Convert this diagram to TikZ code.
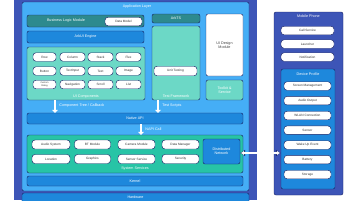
\documentclass[tikz,border=0pt]{standalone}
\usepackage{fontspec}
\setmainfont{Liberation Sans}
\usetikzlibrary{positioning,arrows.meta}
\definecolor{frameblue}{HTML}{3D55B7}
\definecolor{skyblue}{HTML}{45AEF6}
\definecolor{barblue}{HTML}{1E88DC}
\definecolor{darkteal}{HTML}{2D8A8E}
\definecolor{paleteal}{HTML}{6CD8C6}
\definecolor{midteal}{HTML}{27C4A6}
\definecolor{navy}{HTML}{1A2466}
\tikzset{
  outerbox/.style={fill=frameblue, draw=none, inner sep=0},
  skybox/.style={fill=skyblue, draw=navy, line width=1.3pt, rounded corners=2mm, inner sep=0},
  bluebar/.style={fill=barblue, draw=navy, line width=1.3pt, rounded corners=2mm, inner sep=0, text=white},
  tealbar/.style={fill=darkteal, draw=navy, line width=1.3pt, rounded corners=2mm, inner sep=0, text=white},
  palebox/.style={fill=paleteal, draw=navy, line width=1.3pt, rounded corners=2mm, inner sep=0, text=white, align=center},
  servbox/.style={fill=midteal, draw=navy, line width=1.3pt, rounded corners=2mm, inner sep=0},
  whitebox/.style={fill=white, draw=navy, line width=1.3pt, rounded corners=2mm, inner sep=0, text=black!75, align=center},
  pill/.style={fill=white, draw=navy, line width=1.3pt, rounded corners=3mm, inner sep=0, minimum height=8.5mm, text=black!80, align=center, font=\fontsize{9}{9.5}\selectfont},
  boxlabel/.style={text=white, inner sep=1pt},
  downarrow/.style={-{Triangle[length=9pt, width=16pt]}, white, line width=5pt},
  relabel/.style={text=white, inner sep=1pt, anchor=west}
}
\begin{document}
\begin{tikzpicture}[x=1mm, y=-1mm, every node/.style={font=\fontsize{10.5}{11.5}\selectfont}]
  \useasboundingbox (0,0) rectangle (356,200);
  \fill[white] (0,0) rectangle (356,200);
  % left stack
  \node[outerbox, minimum width=243mm, minimum height=200mm] (core) at (135.5,100) {};
  \node[bluebar, minimum width=227mm, minimum height=14mm] (hw) at (135.5,200) {};
  \node[boxlabel] (hwtitle) at (135.5,197) {Hardware};
  \node[skybox, minimum width=227mm, minimum height=189mm] (app) at (135.5,96.5) {};
  \node[boxlabel] (apptitle) at (137,7) {Application Layer};

  \node[tealbar, minimum width=117mm, minimum height=12mm] (logic) at (85.5,21) {};
  \node[boxlabel] (logictitle) at (66,21) {Business Logic Module};
  \node[pill, minimum width=37mm] (model) at (123.5,21.5) {Data Model};
  \node[bluebar, minimum width=117mm, minimum height=12mm] (engine) at (85.5,37) {ArkUI Engine};

  \node[palebox, minimum width=118mm, minimum height=53mm] (comps) at (86,73.5) {};
  \node[boxlabel] (compstitle) at (86,96.5) {UI Components};
  \node[pill, minimum width=23mm] (c1) at (44.5,57) {Row};
  \node[pill, minimum width=25mm] (c2) at (72.5,57) {Column};
  \node[pill, minimum width=25mm] (c3) at (100.5,57) {Stack};
  \node[pill, minimum width=25mm] (c4) at (128.5,57) {Flex};
  \node[pill, minimum width=23mm] (c5) at (44.5,71) {Button};
  \node[pill, minimum width=25mm] (c6) at (72.5,71) {TextInput};
  \node[pill, minimum width=25mm] (c7) at (100.5,71) {Text};
  \node[pill, minimum width=25mm] (c8) at (128.5,71) {Image};
  \node[pill, minimum width=23mm, font=\fontsize{6.5}{7}\selectfont] (c9) at (44.5,84.5) {Custom\\Dialog};
  \node[pill, minimum width=25mm] (c10) at (72.5,84.5) {Navigation};
  \node[pill, minimum width=25mm] (c11) at (100.5,84.5) {Scroll};
  \node[pill, minimum width=25mm] (c12) at (128.5,84.5) {List};

  \node[tealbar, minimum width=48mm, minimum height=9mm] (arkts) at (176,18.5) {ArkTS};
  \node[palebox, minimum width=48mm, minimum height=74mm] (tests) at (176,63) {};
  \node[pill, minimum width=43mm, minimum height=9.5mm] (unit) at (175.5,71) {Unit Testing};
  \node[boxlabel] (teststitle) at (176,96.5) {Test Framework};

  \node[whitebox, minimum width=37mm, minimum height=62mm] (design) at (224.5,45) {UI Design\\Module};
  \node[palebox, minimum width=37mm, minimum height=20mm] (tools) at (224.5,90) {Toolkit \&\\Service};

  \node[bluebar, minimum width=216mm, minimum height=11mm] (api) at (135,118.5) {Native API};
  \draw[downarrow] (55,100) -- (55,113);
  \node[relabel] (apilabel1) at (59,106) {Component Tree / Callback};
  \draw[downarrow] (158,100) -- (158,113);
  \node[relabel] (apilabel2) at (162,106) {Test Scripts};

  \node[servbox, minimum width=216mm, minimum height=38mm] (services) at (135,154) {};
  \node[boxlabel] (servtitle) at (135,169) {System Services};
  \draw[downarrow] (141,124) -- (141,135);
  \node[relabel] (syslabel) at (145,129) {NAPI Call};
  \node[pill, minimum width=38mm, minimum height=9mm] (s1) at (51,144.5) {Audio System};
  \node[pill, minimum width=36mm, minimum height=9mm] (s2) at (92.5,144.5) {BT Module};
  \node[pill, minimum width=37mm, minimum height=9mm] (s3) at (136.5,144.5) {Camera Module};
  \node[pill, minimum width=37mm, minimum height=9mm] (s4) at (180.5,144.5) {Data Manager};
  \node[pill, minimum width=38mm, minimum height=9mm] (s5) at (51,159) {Location};
  \node[pill, minimum width=36mm, minimum height=9mm] (s6) at (92.5,159) {Graphics};
  \node[pill, minimum width=37mm, minimum height=9mm] (s7) at (136.5,159) {Sensor Service};
  \node[pill, minimum width=37mm, minimum height=9mm] (s8) at (180.5,159) {Security};
  \node[bluebar, minimum width=37mm, minimum height=25mm, align=center] (net) at (221.5,151.5) {Distributed\\Network};

  \node[bluebar, minimum width=216mm, minimum height=10mm] (kernel) at (135,181) {Kernel};

  % device side
  \node[outerbox, rounded corners=2mm, draw=navy, line width=1.3pt, minimum width=69mm, minimum height=183mm] (device) at (308.5,103.5) {};
  \node[boxlabel] (devicetitle) at (308.5,16.5) {Mobile Phone};
  \node[pill, minimum width=53mm] (d1) at (307.5,30.5) {Call Service};
  \node[pill, minimum width=53mm] (d2) at (307.5,44) {Launcher};
  \node[pill, minimum width=53mm] (d3) at (307.5,57) {Notification};
  \node[bluebar, minimum width=54mm, minimum height=120mm] (profile) at (308,129) {};
  \node[boxlabel] (profiletitle) at (308,74) {Device Profile};
  \node[pill, minimum width=47mm] (p1) at (307.5,86) {Screen Management};
  \node[pill, minimum width=47mm] (p2) at (307.5,100.7) {Audio Output};
  \node[pill, minimum width=47mm] (p3) at (307.5,115.5) {WLAN Connection};
  \node[pill, minimum width=47mm] (p4) at (307.5,130.2) {Sensor};
  \node[pill, minimum width=47mm] (p5) at (307.5,145) {Wake Up Event};
  \node[pill, minimum width=47mm] (p6) at (307.5,159.7) {Battery};
  \node[pill, minimum width=47mm] (p7) at (307.5,174.5) {Storage};

  \draw[navy, line width=7pt, {Latex[length=14pt, width=20pt]}-{Latex[length=14pt, width=20pt]}] (net.east |- 0,153) -- (profile.west |- 0,153);
  \draw[white, line width=3pt, shorten <=2pt, shorten >=2pt, {Latex[length=9pt, width=13pt]}-{Latex[length=9pt, width=13pt]}] (net.east |- 0,153) -- (profile.west |- 0,153);
\end{tikzpicture}
\end{document}
